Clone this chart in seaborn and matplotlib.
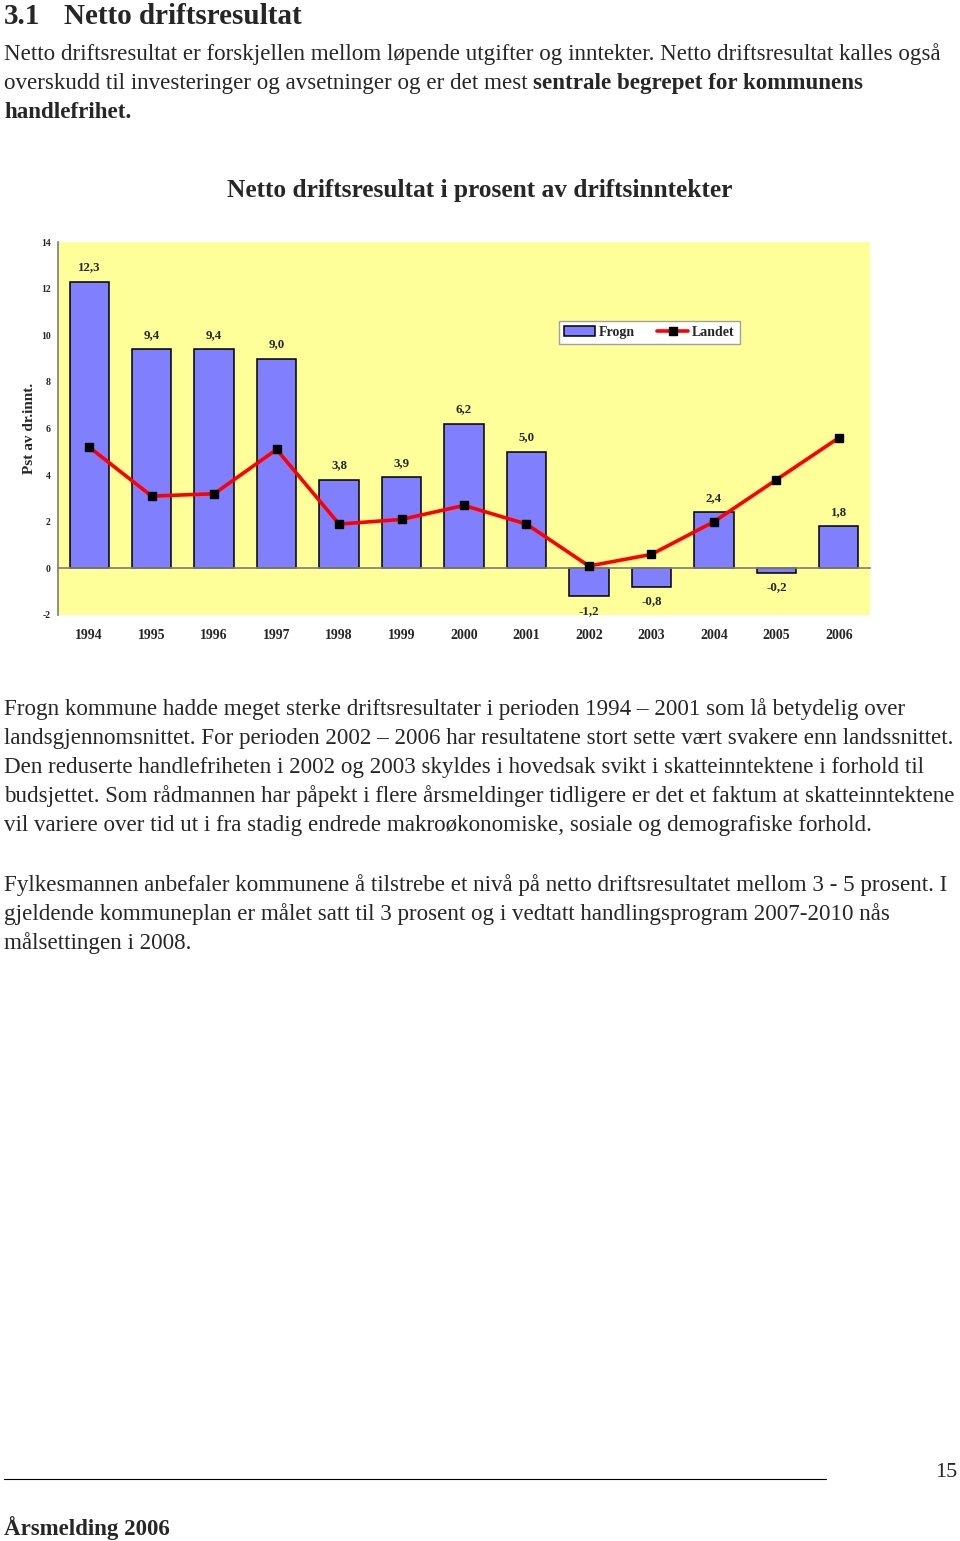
import matplotlib
matplotlib.use("Agg")
import matplotlib.pyplot as plt
import numpy as np
import pandas as pd
import seaborn as sns

sns.set_theme(style="white")
plt.rcParams["font.family"] = ["Liberation Serif", "DejaVu Serif"]

# chart data
years = ["1994", "1995", "1996", "1997", "1998", "1999", "2000",
         "2001", "2002", "2003", "2004", "2005", "2006"]
frogn = [12.3, 9.4, 9.4, 9.0, 3.8, 3.9, 6.2, 5.0, -1.2, -0.8, 2.4, -0.2, 1.8]
landet = [5.2, 3.1, 3.2, 5.1, 1.9, 2.1, 2.7, 1.9, 0.1, 0.6, 2.0, 3.8, 5.6]
y_ticks = [-2, 0, 2, 4, 6, 8, 10, 12, 14]

# page text
heading_num = "3.1"
heading = "Netto driftsresultat"
intro = [
    ("Netto driftsresultat er forskjellen mellom løpende utgifter og inntekter. "
     "Netto driftsresultat kalles også", ""),
    ("overskudd til investeringer og avsetninger og er det mest",
     "sentrale begrepet for kommunens"),
    ("", "handlefrihet."),
]
para2 = [
    "Frogn kommune hadde meget sterke driftsresultater i perioden 1994 – 2001 som lå betydelig over",
    "landsgjennomsnittet. For perioden 2002 – 2006 har resultatene stort sette vært svakere enn landssnittet.",
    "Den reduserte handlefriheten i 2002 og 2003 skyldes i hovedsak svikt i skatteinntektene i forhold til",
    "budsjettet. Som rådmannen har påpekt i flere årsmeldinger tidligere er det et faktum at skatteinntektene",
    "vil variere over tid ut i fra stadig endrede makroøkonomiske, sosiale og demografiske forhold.",
]
para3 = [
    "Fylkesmannen anbefaler kommunene å tilstrebe et nivå på netto driftsresultatet mellom 3 - 5 prosent. I",
    "gjeldende kommuneplan er målet satt til 3 prosent og i vedtatt handlingsprogram 2007-2010 nås",
    "målsettingen i 2008.",
]

W, H = 960, 1541
fig = plt.figure(figsize=(W / 100, H / 100), dpi=100)
fig.patch.set_facecolor("white")
renderer = fig.canvas.get_renderer()
BODY = 16.6


def fx(px):
    return px / W


def fy(py):
    return 1 - py / H


# heading and intro
fig.text(fx(4), fy(24), heading_num, fontsize=21, fontweight="bold", va="baseline")
fig.text(fx(64), fy(24), heading, fontsize=21, fontweight="bold", va="baseline")

for i, (plain, bold) in enumerate(intro):
    yb = fy(60 + 29 * i)
    x = fx(4)
    if plain:
        t = fig.text(x, yb, plain, fontsize=BODY, va="baseline")
        x = t.get_window_extent(renderer).x1 / W + fx(BODY * 0.25 * 100 / 72)
    if bold:
        fig.text(x, yb, bold, fontsize=BODY, fontweight="bold", va="baseline")

for i, line in enumerate(para2):
    fig.text(fx(4), fy(715 + 29 * i), line, fontsize=BODY, va="baseline")
for i, line in enumerate(para3):
    fig.text(fx(4), fy(891 + 29 * i), line, fontsize=BODY, va="baseline")

# footer
fig.add_artist(plt.Line2D([fx(4), fx(826)], [fy(1479), fy(1479)], color="black", lw=0.8))
fig.text(fx(957), fy(1477), "15", fontsize=16, ha="right", va="baseline")
fig.text(fx(4), fy(1535), "Årsmelding 2006", fontsize=16.5, fontweight="bold", va="baseline")

# chart
fig.text(0.5, fy(190), "Netto driftsresultat i prosent av driftsinntekter",
         fontsize=18.3, fontweight="bold", ha="center", va="center")

ax = fig.add_axes([fx(58), fy(615), fx(812), 373 / H])
ax.set_facecolor("#FFFF99")

df = pd.DataFrame({"year": years, "Frogn": frogn, "Landet": landet})
df["pos"] = np.arange(len(df))

sns.barplot(data=df, x="year", y="Frogn", color="#8080FF", saturation=1,
            edgecolor="black", linewidth=1.1, width=0.63, label="Frogn", ax=ax)
ax.plot(df["pos"], df["Landet"], color="#FF0000", lw=2.6, marker="s",
        markersize=6, markerfacecolor="black", markeredgecolor="black",
        label="Landet", zorder=4)

ax.bar_label(ax.containers[0], labels=[f"{v:.1f}".replace(".", ",") for v in frogn],
             padding=6, fontsize=9.3, fontweight="bold")

ax.set_xlim(-0.5, len(years) - 0.5)
ax.set_ylim(-2, 14)

for side in ["top", "right"]:
    ax.spines[side].set_visible(False)
ax.spines["left"].set_color("#808080")
ax.spines["bottom"].set_color("#808080")
ax.spines["bottom"].set_position(("data", 0))
ax.tick_params(axis="y", direction="out", length=4.3, width=0.8, color="#808080", pad=1)
ax.tick_params(axis="x", which="major", length=0, pad=44)
ax.tick_params(axis="x", which="minor", direction="inout", length=8, width=0.8, color="#808080")

ax.set_yticks(y_ticks)
ax.set_yticklabels([str(v) for v in y_ticks], fontsize=7, fontweight="bold")
ax.set_xticks(df["pos"])
ax.set_xticklabels(years, fontsize=10, fontweight="bold")
ax.set_xticks(np.arange(-0.5, len(years), 1), minor=True)
for lab in ax.get_xticklabels() + ax.get_yticklabels():
    lab.set_fontweight("bold")

ax.set_xlabel("")
ax.set_ylabel("Pst av dr.innt.", fontsize=11, fontweight="bold")
ax.yaxis.set_label_coords(-0.027, 0.5)

handles, labels = ax.get_legend_handles_labels()
order = [labels.index("Frogn"), labels.index("Landet")]
ax.legend([handles[i] for i in order], [labels[i] for i in order],
          ncol=2, loc="upper left", bbox_to_anchor=(0.609, 0.806),
          prop={"weight": "bold", "size": 10}, frameon=True,
          fancybox=False, edgecolor="#A0A0A0", framealpha=1,
          handlelength=2.2, handletextpad=0.3, columnspacing=1.6,
          borderpad=0.35)

fig.savefig("out.png", dpi=100)
